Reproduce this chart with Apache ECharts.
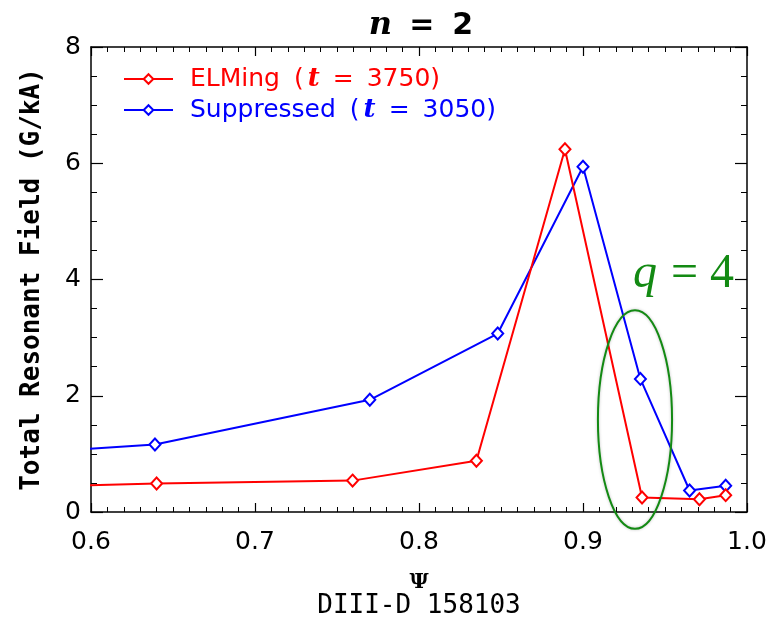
<!DOCTYPE html>
<html>
<head>
<meta charset="utf-8">
<script src="https://cdn.jsdelivr.net/npm/echarts@6/dist/echarts.min.js"></script>
<style>
  html, body { margin: 0; padding: 0; background: #fff; }
  #chart { width: 780px; height: 621px; }
</style>
</head>
<body>
<div id="chart"></div>
<script>
// n = 2 total resonant field vs normalized flux, DIII-D shot 158103
const psiElming = [0.55, 0.640, 0.7595, 0.835, 0.889, 0.936, 0.971, 0.987];
const fieldElming = [0.42, 0.49, 0.54, 0.88, 6.24, 0.25, 0.22, 0.29];
const psiSuppressed = [0.55, 0.639, 0.770, 0.848, 0.900, 0.935, 0.965, 0.987];
const fieldSuppressed = [1.00, 1.16, 1.93, 3.07, 5.94, 2.29, 0.37, 0.45];

const seriesNames = ['ELMing', 'Suppressed'];
const seriesTimes = [3750, 3050];
const xTicks = [0.6, 0.7, 0.8, 0.9, 1.0];
const yTicks = [0, 2, 4, 6, 8];

// q = 4 surface marker: ellipse centre and half-axes in data units
const q4Center = [0.9317, 1.59];
const q4Radius = [0.0226, 1.88];
const q4LabelAt = [0.9305, 3.67];

const pairs = (xs, ys) => xs.map((x, i) => [x, ys[i]]);

const chart = echarts.init(document.getElementById('chart'));

const axisLine = { show: true, onZero: false, lineStyle: { color: '#000', width: 1.5 } };
const sansFont = '"DejaVu Sans", "Liberation Sans", sans-serif';
const monoFont = '"DejaVu Sans Mono", monospace';

function xAxisDef(pos, labels) {
  return {
    type: 'value', position: pos,
    min: xTicks[0], max: xTicks[xTicks.length - 1], interval: 0.1,
    axisLine: axisLine,
    axisTick: { show: true, inside: true, length: 9, lineStyle: { color: '#000', width: 1.2 } },
    minorTick: { show: true, splitNumber: 10, length: 5, lineStyle: { color: '#000', width: 1 } },
    splitLine: { show: false },
    axisLabel: {
      show: labels, margin: 18, fontSize: 25, color: '#000', fontFamily: sansFont,
      formatter: v => v.toFixed(1)
    }
  };
}
function yAxisDef(pos, labels) {
  return {
    type: 'value', position: pos,
    min: yTicks[0], max: yTicks[yTicks.length - 1], interval: 2,
    axisLine: axisLine,
    axisTick: { show: true, inside: true, length: 12, lineStyle: { color: '#000', width: 1.2 } },
    minorTick: { show: true, splitNumber: 4, length: 6, lineStyle: { color: '#000', width: 1 } },
    splitLine: { show: false },
    axisLabel: { show: labels, margin: 10, fontSize: 25, color: '#000', fontFamily: sansFont }
  };
}

const xBottom = xAxisDef('bottom', true);
xBottom.name = 'Ψ';
xBottom.nameLocation = 'middle';
xBottom.nameGap = 60;
xBottom.nameTextStyle = { fontSize: 21, fontWeight: 'bold', color: '#000', fontFamily: '"DejaVu Serif", serif' };

const yLeft = yAxisDef('left', true);
yLeft.name = 'Total Resonant Field (G/kA)';
yLeft.nameLocation = 'middle';
yLeft.nameGap = 46;
yLeft.nameTextStyle = { fontSize: 26, fontWeight: 'bold', color: '#000', fontFamily: monoFont };

const colors = ['#ff0000', '#0000ff'];
// legend text pieces with the wide spacing of the plot's own font
const legendRich = {
  a: { fontSize: 25, fontFamily: sansFont },
  o: { fontSize: 25, fontFamily: sansFont, padding: [0, 0, 0, 14] },
  t: { fontSize: 26, fontFamily: '"DejaVu Serif", serif', fontStyle: 'italic', fontWeight: 'bold', padding: [0, 0, 0, 4] },
  e: { fontSize: 25, fontFamily: sansFont, padding: [0, 0, 0, 13] },
  v: { fontSize: 25, fontFamily: sansFont, padding: [0, 0, 0, 13] }
};

function lineSeries(i, data) {
  return {
    name: seriesNames[i],
    type: 'line',
    data: data,
    clip: true,
    symbol: 'emptyDiamond',
    symbolSize: [11, 12],
    color: colors[i],
    lineStyle: { width: 2, color: colors[i] },
    itemStyle: { color: colors[i], borderWidth: 2 },
    emphasis: { disabled: true },
    z: 3 - i
  };
}

chart.setOption({
  animation: false,
  backgroundColor: '#fff',
  title: {
    text: '{n|n}{e|=}{d|2}',
    left: 416, top: 5, textAlign: 'center',
    textStyle: {
      rich: {
        n: { fontSize: 32, fontStyle: 'italic', fontWeight: 'bold', fontFamily: '"DejaVu Serif", serif', color: '#000' },
        e: { fontSize: 30, fontFamily: sansFont, color: '#000', padding: [0, 0, 0, 17] },
        d: { fontSize: 30, fontFamily: sansFont, color: '#000', padding: [0, 0, 0, 18] }
      }
    }
  },
  grid: { left: 91, right: 33, top: 47, bottom: 109, containLabel: false },
  legend: {
    orient: 'vertical', left: 123, top: 65, padding: 0,
    itemWidth: 49, itemHeight: 12, itemGap: 3,
    selectedMode: false,
    lineStyle: { width: 2 },
    data: seriesNames.map((n, i) => ({ name: n, textStyle: { color: colors[i] } })),
    formatter: name => {
      const i = seriesNames.indexOf(name);
      return '{a|' + name + '}{o|(}{t|t}{e|=}{v|' + seriesTimes[i] + ')}';
    },
    textStyle: { fontSize: 25, lineHeight: 28, padding: [0, 0, 0, 12], rich: legendRich }
  },
  xAxis: [xBottom, xAxisDef('top', false)],
  yAxis: [yLeft, yAxisDef('right', false)],
  series: [
    lineSeries(0, pairs(psiElming, fieldElming)),
    lineSeries(1, pairs(psiSuppressed, fieldSuppressed))
  ]
});

// annotations placed through the axis scales
const toPx = p => chart.convertToPixel({ xAxisIndex: 0, yAxisIndex: 0 }, p);
const c = toPx(q4Center);
const edge = toPx([q4Center[0] + q4Radius[0], q4Center[1] + q4Radius[1]]);
const lab = toPx(q4LabelAt);

chart.setOption({
  graphic: [
    {
      type: 'ellipse',
      shape: { cx: c[0], cy: c[1], rx: Math.abs(edge[0] - c[0]), ry: Math.abs(c[1] - edge[1]) },
      style: { fill: 'none', stroke: '#138a13', lineWidth: 2, shadowBlur: 3, shadowColor: 'rgba(0,0,0,0.25)' },
      z: 10
    },
    {
      type: 'text', x: lab[0], y: lab[1],
      style: {
        text: '{q|q}{e|=}{d|4}',
        verticalAlign: 'bottom',
        rich: {
          q: { fontSize: 48, fontStyle: 'italic', fontFamily: '"Liberation Serif", "Times New Roman", serif', fill: '#138a13' },
          e: { fontSize: 48, fontFamily: '"Liberation Serif", "Times New Roman", serif', fill: '#138a13', padding: [0, 0, 0, 14] },
          d: { fontSize: 48, fontFamily: '"Liberation Serif", "Times New Roman", serif', fill: '#138a13', padding: [0, 0, 0, 12] }
        }
      },
      z: 10
    },
    {
      type: 'text', x: 419, y: 606,
      style: {
        text: 'DIII-D 158103',
        align: 'center', verticalAlign: 'middle',
        fontSize: 26, fontFamily: monoFont, fill: '#000'
      }
    }
  ]
});
</script>
</body>
</html>
